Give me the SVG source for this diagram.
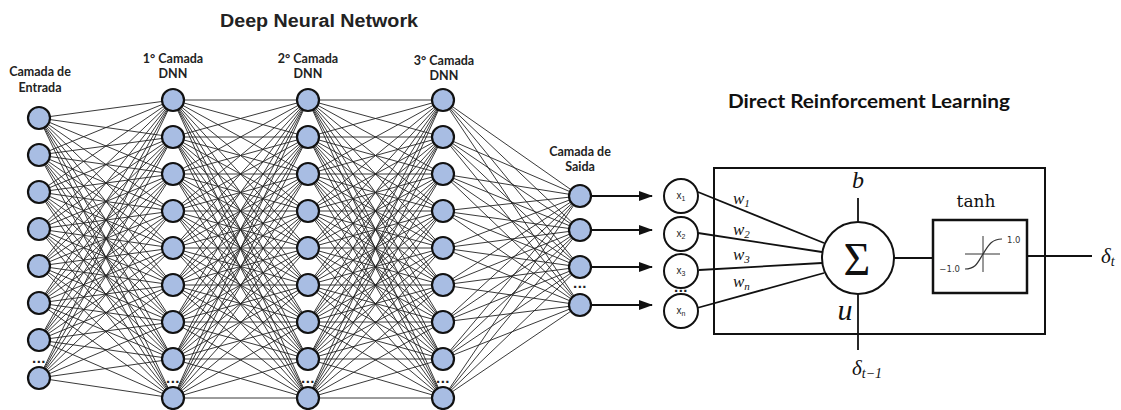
<svg xmlns="http://www.w3.org/2000/svg" width="1121" height="410" viewBox="0 0 1121 410">
<style>
.n{fill:#a8bde3;stroke:#111;stroke-width:2.2}
.lbl{font-family:Lato,"Liberation Sans",sans-serif;font-weight:bold;font-size:12.5px;fill:#222;text-anchor:middle}
.conn{stroke:#222;stroke-width:0.9;fill:none}
.k{stroke:#111;stroke-width:1.8;fill:none}
.xn{fill:#fff;stroke:#111;stroke-width:2}
.xt{font-family:"Liberation Sans",sans-serif;font-size:10px;fill:#222;text-anchor:middle}
.m{font-family:"Liberation Serif",serif;font-style:italic;fill:#111}
.dots{font-family:"Liberation Sans",sans-serif;font-weight:bold;font-size:15px;text-anchor:middle;fill:#222;letter-spacing:0.5px}
</style>
<defs>
<marker id="ah" markerUnits="userSpaceOnUse" markerWidth="14" markerHeight="10" refX="13" refY="5" orient="auto">
<path d="M0 0L14 5L0 10Z" fill="#111"/>
</marker>
<path id="hf" d="M0 100L135 100M0 100L135 137M0 100L135 174M0 100L135 211M0 100L135 248M0 100L135 285M0 100L135 322M0 100L135 359M0 100L135 398
M0 137L135 100M0 137L135 137M0 137L135 174M0 137L135 211M0 137L135 248M0 137L135 285M0 137L135 322M0 137L135 359M0 137L135 398
M0 174L135 100M0 174L135 137M0 174L135 174M0 174L135 211M0 174L135 248M0 174L135 285M0 174L135 322M0 174L135 359M0 174L135 398
M0 211L135 100M0 211L135 137M0 211L135 174M0 211L135 211M0 211L135 248M0 211L135 285M0 211L135 322M0 211L135 359M0 211L135 398
M0 248L135 100M0 248L135 137M0 248L135 174M0 248L135 211M0 248L135 248M0 248L135 285M0 248L135 322M0 248L135 359M0 248L135 398
M0 285L135 100M0 285L135 137M0 285L135 174M0 285L135 211M0 285L135 248M0 285L135 285M0 285L135 322M0 285L135 359M0 285L135 398
M0 322L135 100M0 322L135 137M0 322L135 174M0 322L135 211M0 322L135 248M0 322L135 285M0 322L135 322M0 322L135 359M0 322L135 398
M0 359L135 100M0 359L135 137M0 359L135 174M0 359L135 211M0 359L135 248M0 359L135 285M0 359L135 322M0 359L135 359M0 359L135 398
M0 398L135 100M0 398L135 137M0 398L135 174M0 398L135 211M0 398L135 248M0 398L135 285M0 398L135 322M0 398L135 359M0 398L135 398"/>
</defs>
<rect width="1121" height="410" fill="#fff"/>

<text x="319" y="27" font-family="'Liberation Sans',Arial,sans-serif" font-weight="bold" font-size="18" fill="#222" text-anchor="middle" textLength="198" lengthAdjust="spacingAndGlyphs">Deep Neural Network</text>
<text x="869" y="108" font-family="Lato,'Liberation Sans',sans-serif" font-weight="bold" font-size="19" fill="#111" text-anchor="middle" textLength="282" lengthAdjust="spacingAndGlyphs">Direct Reinforcement Learning</text>

<text class="lbl" x="40" y="76">Camada de</text>
<text class="lbl" x="40" y="92">Entrada</text>
<text class="lbl" x="173" y="63">1° Camada</text>
<text class="lbl" x="173" y="78">DNN</text>
<text class="lbl" x="308" y="63">2° Camada</text>
<text class="lbl" x="308" y="78">DNN</text>
<text class="lbl" x="444" y="65">3° Camada</text>
<text class="lbl" x="444" y="80">DNN</text>
<text class="lbl" x="580" y="156">Camada de</text>
<text class="lbl" x="580" y="171">Saida</text>

<g id="connectors" class="conn">
<path d="M39 118L173 100M39 118L173 137M39 118L173 174M39 118L173 211M39 118L173 248M39 118L173 285M39 118L173 322M39 118L173 359M39 118L173 398
M39 155L173 100M39 155L173 137M39 155L173 174M39 155L173 211M39 155L173 248M39 155L173 285M39 155L173 322M39 155L173 359M39 155L173 398
M39 192L173 100M39 192L173 137M39 192L173 174M39 192L173 211M39 192L173 248M39 192L173 285M39 192L173 322M39 192L173 359M39 192L173 398
M39 229L173 100M39 229L173 137M39 229L173 174M39 229L173 211M39 229L173 248M39 229L173 285M39 229L173 322M39 229L173 359M39 229L173 398
M39 266L173 100M39 266L173 137M39 266L173 174M39 266L173 211M39 266L173 248M39 266L173 285M39 266L173 322M39 266L173 359M39 266L173 398
M39 303L173 100M39 303L173 137M39 303L173 174M39 303L173 211M39 303L173 248M39 303L173 285M39 303L173 322M39 303L173 359M39 303L173 398
M39 340L173 100M39 340L173 137M39 340L173 174M39 340L173 211M39 340L173 248M39 340L173 285M39 340L173 322M39 340L173 359M39 340L173 398
M39 378L173 100M39 378L173 137M39 378L173 174M39 378L173 211M39 378L173 248M39 378L173 285M39 378L173 322M39 378L173 359M39 378L173 398"/>
<use href="#hf" x="173"/>
<use href="#hf" x="308"/>
<path d="M443 100L580 196M443 100L580 230M443 100L580 267M443 100L580 305
M443 137L580 196M443 137L580 230M443 137L580 267M443 137L580 305
M443 174L580 196M443 174L580 230M443 174L580 267M443 174L580 305
M443 211L580 196M443 211L580 230M443 211L580 267M443 211L580 305
M443 248L580 196M443 248L580 230M443 248L580 267M443 248L580 305
M443 285L580 196M443 285L580 230M443 285L580 267M443 285L580 305
M443 322L580 196M443 322L580 230M443 322L580 267M443 322L580 305
M443 359L580 196M443 359L580 230M443 359L580 267M443 359L580 305
M443 398L580 196M443 398L580 230M443 398L580 267M443 398L580 305"/>
<g class="k" stroke-width="2">
<path d="M591 196H652" marker-end="url(#ah)"/>
<path d="M591 230H652" marker-end="url(#ah)"/>
<path d="M591 267H652" marker-end="url(#ah)"/>
<path d="M591 305H652" marker-end="url(#ah)"/>
</g>
<g class="k" stroke-width="1.5">
<path d="M698 192L824 243"/>
<path d="M698 233L822 252"/>
<path d="M699 270L822 263"/>
<path d="M697 308L824 273"/>
<path d="M858 198V222"/>
<path d="M858 294V350"/>
<path d="M894 258H933"/>
<path d="M1027 256H1092"/>
</g>
</g>

<g id="input-layer">
<g id="in1"><circle class="n" cx="39" cy="118" r="11"/></g>
<g id="in2"><circle class="n" cx="39" cy="155" r="11"/></g>
<g id="in3"><circle class="n" cx="39" cy="192" r="11"/></g>
<g id="in4"><circle class="n" cx="39" cy="229" r="11"/></g>
<g id="in5"><circle class="n" cx="39" cy="266" r="11"/></g>
<g id="in6"><circle class="n" cx="39" cy="303" r="11"/></g>
<g id="in7"><circle class="n" cx="39" cy="340" r="11"/></g>
<g id="in8"><circle class="n" cx="39" cy="378" r="11"/></g>
<text class="dots" x="39" y="363">...</text>
</g>

<g id="hidden-layer-1">
<g id="h1n1"><circle class="n" cx="173" cy="100" r="11"/></g>
<g id="h1n2"><circle class="n" cx="173" cy="137" r="11"/></g>
<g id="h1n3"><circle class="n" cx="173" cy="174" r="11"/></g>
<g id="h1n4"><circle class="n" cx="173" cy="211" r="11"/></g>
<g id="h1n5"><circle class="n" cx="173" cy="248" r="11"/></g>
<g id="h1n6"><circle class="n" cx="173" cy="285" r="11"/></g>
<g id="h1n7"><circle class="n" cx="173" cy="322" r="11"/></g>
<g id="h1n8"><circle class="n" cx="173" cy="359" r="11"/></g>
<g id="h1n9"><circle class="n" cx="173" cy="398" r="11"/></g>
<text class="dots" x="173" y="383">...</text>
</g>

<g id="hidden-layer-2">
<g id="h2n1"><circle class="n" cx="308" cy="100" r="11"/></g>
<g id="h2n2"><circle class="n" cx="308" cy="137" r="11"/></g>
<g id="h2n3"><circle class="n" cx="308" cy="174" r="11"/></g>
<g id="h2n4"><circle class="n" cx="308" cy="211" r="11"/></g>
<g id="h2n5"><circle class="n" cx="308" cy="248" r="11"/></g>
<g id="h2n6"><circle class="n" cx="308" cy="285" r="11"/></g>
<g id="h2n7"><circle class="n" cx="308" cy="322" r="11"/></g>
<g id="h2n8"><circle class="n" cx="308" cy="359" r="11"/></g>
<g id="h2n9"><circle class="n" cx="308" cy="398" r="11"/></g>
<text class="dots" x="308" y="383">...</text>
</g>

<g id="hidden-layer-3">
<g id="h3n1"><circle class="n" cx="443" cy="100" r="11"/></g>
<g id="h3n2"><circle class="n" cx="443" cy="137" r="11"/></g>
<g id="h3n3"><circle class="n" cx="443" cy="174" r="11"/></g>
<g id="h3n4"><circle class="n" cx="443" cy="211" r="11"/></g>
<g id="h3n5"><circle class="n" cx="443" cy="248" r="11"/></g>
<g id="h3n6"><circle class="n" cx="443" cy="285" r="11"/></g>
<g id="h3n7"><circle class="n" cx="443" cy="322" r="11"/></g>
<g id="h3n8"><circle class="n" cx="443" cy="359" r="11"/></g>
<g id="h3n9"><circle class="n" cx="443" cy="398" r="11"/></g>
<text class="dots" x="443" y="383">...</text>
</g>

<g id="output-layer">
<g id="out1"><circle class="n" cx="580" cy="196" r="11"/></g>
<g id="out2"><circle class="n" cx="580" cy="230" r="11"/></g>
<g id="out3"><circle class="n" cx="580" cy="267" r="11"/></g>
<g id="out4"><circle class="n" cx="580" cy="305" r="11"/></g>
<text class="dots" x="580" y="288">...</text>
</g>

<g id="drl-inputs">
<g id="x1"><circle class="xn" cx="681" cy="196" r="17"/><text class="xt" x="681" y="199">x<tspan font-size="7" dy="2">1</tspan></text></g>
<g id="x2"><circle class="xn" cx="681" cy="234" r="17"/><text class="xt" x="681" y="237">x<tspan font-size="7" dy="2">2</tspan></text></g>
<g id="x3"><circle class="xn" cx="681" cy="271" r="17"/><text class="xt" x="681" y="274">x<tspan font-size="7" dy="2">3</tspan></text></g>
<g id="xn"><circle class="xn" cx="681" cy="311" r="17"/><text class="xt" x="681" y="314">x<tspan font-size="7" dy="2">n</tspan></text></g>
<text class="dots" x="681" y="292">...</text>
</g>

<g id="drl-box">
<rect x="714" y="168" width="331" height="166" fill="none" stroke="#111" stroke-width="2"/>
<text class="m" x="733" y="204" font-size="17">w<tspan font-size="11" dy="3">1</tspan></text>
<text class="m" x="733" y="235" font-size="17">w<tspan font-size="11" dy="3">2</tspan></text>
<text class="m" x="733" y="260" font-size="17">w<tspan font-size="11" dy="3">3</tspan></text>
<text class="m" x="733" y="287" font-size="17">w<tspan font-size="11" dy="3">n</tspan></text>
<text class="m" x="858" y="188" font-size="24" text-anchor="middle">b</text>
<text class="m" x="845" y="320" font-size="30" text-anchor="middle">u</text>
</g>

<g id="sum">
<circle cx="858" cy="258" r="36" fill="#fff" stroke="#111" stroke-width="2"/>
<text x="857" y="275" font-family="'Liberation Serif',serif" font-size="46" fill="#111" text-anchor="middle">Σ</text>
</g>

<g id="tanh">
<text x="976" y="207" font-family="'DejaVu Serif',serif" font-size="17" fill="#111" text-anchor="middle">tanh</text>
<rect x="933" y="220" width="94" height="73" fill="#fff" stroke="#111" stroke-width="2.5"/>
<path d="M965 254H1000M983 236V272" stroke="#333" stroke-width="1" fill="none"/>
<path d="M965 269C976 269 978 262 983 254S991 239 1002 239" stroke="#333" stroke-width="1.2" fill="none"/>
<text x="1007" y="243" font-family="'DejaVu Sans',sans-serif" font-size="8.5" fill="#333">1.0</text>
<text x="960" y="272" font-family="'DejaVu Sans',sans-serif" font-size="8.5" fill="#333" text-anchor="end">−1.0</text>
</g>

<g id="delta-prev">
<text class="m" x="852" y="375" font-size="21">δ<tspan font-size="14" dy="3">t−1</tspan></text>
</g>
<g id="delta-t">
<text class="m" x="1101" y="263" font-size="21">δ<tspan font-size="14" dy="3">t</tspan></text>
</g>
</svg>
